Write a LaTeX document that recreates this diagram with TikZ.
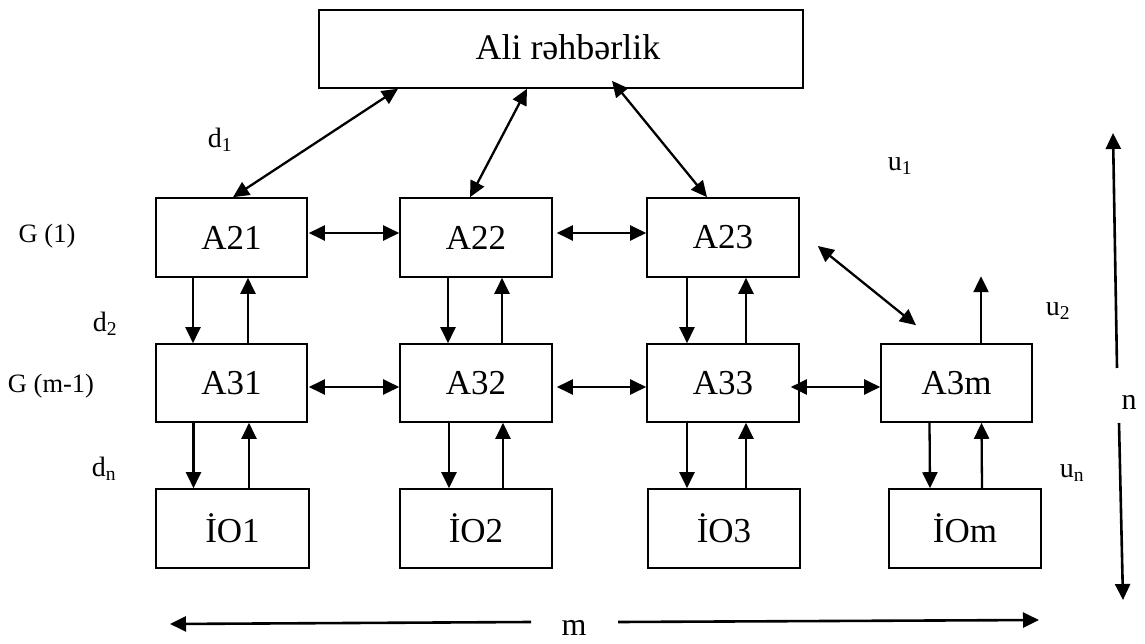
\documentclass[tikz,border=0pt]{standalone}
\usepackage{fontspec}
\setmainfont{Liberation Serif}
\usetikzlibrary{arrows.meta}
\tikzset{
  box/.style={draw, line width=1.6pt, inner sep=0pt, font=\fontsize{35}{40}\selectfont},
  arr/.style={line width=2.3pt, -{Triangle[length=16pt,width=15pt]}},
  dbl/.style={line width=2.3pt, {Triangle[length=16pt,width=15pt]}-{Triangle[length=16pt,width=15pt]}},
  glbl/.style={inner sep=0pt, font=\fontsize{26.5}{30}\selectfont},
  dlbl/.style={inner sep=0pt, font=\fontsize{28}{32}\selectfont},
  axlbl/.style={inner sep=0pt, font=\fontsize{30}{34}\selectfont},
  axarr/.style={line width=2.6pt, -{Triangle[length=16pt,width=15pt]}},
}
\begin{document}
\begin{tikzpicture}[x=1pt,y=-1pt]
\useasboundingbox (0,0) rectangle (1145,644);
% boxes
\node[box, minimum width=484pt, minimum height=78pt, font=\fontsize{36}{40}\selectfont] (top) at (561,49) {\hspace*{14pt}\raisebox{4pt}{Ali rəhbərlik}};
\node[box, minimum width=151pt, minimum height=79pt] (A21) at (231.5,237.5) {A21};
\node[box, minimum width=152pt, minimum height=79pt] (A22) at (476,237.5) {A22};
\node[box, minimum width=152pt, minimum height=79pt] (A23) at (723,237.5) {A23};
\node[box, minimum width=151pt, minimum height=78pt] (A31) at (231.5,383) {A31};
\node[box, minimum width=152pt, minimum height=78pt] (A32) at (476,383) {A32};
\node[box, minimum width=152pt, minimum height=78pt] (A33) at (723,383) {A33};
\node[box, minimum width=151pt, minimum height=78pt] (A3m) at (956.5,383) {A3m};
\node[box, minimum width=153pt, minimum height=79pt] (IO1) at (232.5,528.5) {İO1};
\node[box, minimum width=152pt, minimum height=79pt] (IO2) at (476,528.5) {İO2};
\node[box, minimum width=152pt, minimum height=79pt] (IO3) at (724,528.5) {İO3};
\node[box, minimum width=152pt, minimum height=79pt] (IOm) at (965,528.5) {İOm};

% labels
\node[glbl] (g1) at (47,236) {G (1)};
\node[glbl] (gm) at (51,386) {G (m-1)};
\node[dlbl] (d1) at (220,140) {d\textsubscript{1}};
\node[dlbl] (d2) at (105,324) {d\textsubscript{2}};
\node[dlbl] (dn) at (104,469) {d\textsubscript{n}};
\node[dlbl] (u1) at (900,166) {u\textsubscript{1}};
\node[dlbl] (u2) at (1058,311) {u\textsubscript{2}};
\node[dlbl] (un) at (1072,473) {u\textsubscript{n}};
\node[axlbl] (n) at (1129,402) {n};
\node[axlbl, font=\fontsize{32}{36}\selectfont] (m) at (574,628) {m};

% top connectors
\draw[dbl] ([xshift=-163pt]top.south) -- ([xshift=1.5pt]A21.north);
\draw[dbl] ([xshift=-34pt]top.south) -- ([xshift=-6pt]A22.north);
\draw[dbl] ([xshift=51pt,yshift=8pt]top.south) -- ([xshift=-16pt]A23.north);

% horizontal row 2
\draw[dbl] ([xshift=1pt,yshift=4.5pt]A21.east) -- ([yshift=4.5pt]A22.west);
\draw[dbl] ([xshift=4pt,yshift=4.5pt]A22.east) -- ([yshift=4.5pt]A23.west);
% A23 to A3m diagonal
\draw[dbl] ([xshift=18pt,yshift=-8.5pt]A23.east) -- ([xshift=-40.5pt,yshift=18pt]A3m.north);
% u2 arrow
\coordinate (u2end) at ([xshift=24.5pt,yshift=67pt]A3m.north);
\draw[arr] ([xshift=24.5pt]A3m.north) -- (u2end);

% horizontal row 3
\draw[dbl] ([xshift=1pt,yshift=-4pt]A31.east) -- ([yshift=-4pt]A32.west);
\draw[dbl] ([xshift=4pt,yshift=-4pt]A32.east) -- ([yshift=-4pt]A33.west);
\draw[dbl] ([xshift=-9pt,yshift=-4pt]A33.east) -- ([yshift=-4pt]A3m.west);

% vertical row2 - row3
\draw[arr] ([xshift=-38.5pt]A21.south) -- ([xshift=-38.5pt]A31.north);
\draw[arr] ([xshift=16.5pt]A31.north) -- ([xshift=16.5pt]A21.south);
\draw[arr] ([xshift=-28pt]A22.south) -- ([xshift=-28pt]A32.north);
\draw[arr] ([xshift=26pt]A32.north) -- ([xshift=26pt]A22.south);
\draw[arr] ([xshift=-36pt]A23.south) -- ([xshift=-36pt]A33.north);
\draw[arr] ([xshift=23pt]A33.north) -- ([xshift=23pt]A23.south);

% vertical row3 - IO
\draw[arr] ([xshift=-38pt]A31.south) -- ([xshift=-39pt]IO1.north);
\draw[arr] ([xshift=16.5pt]IO1.north) -- ([xshift=17.5pt]A31.south);
\draw[arr] ([xshift=-27pt]A32.south) -- ([xshift=-27pt]IO2.north);
\draw[arr] ([xshift=27pt]IO2.north) -- ([xshift=27pt]A32.south);
\draw[arr] ([xshift=-36pt]A33.south) -- ([xshift=-37pt]IO3.north);
\draw[arr] ([xshift=22pt]IO3.north) -- ([xshift=23pt]A33.south);
\draw[arr] ([xshift=-27pt]A3m.south) -- ([xshift=-35pt]IOm.north);
\draw[arr] ([xshift=17pt]IOm.north) -- ([xshift=25pt]A3m.south);

% n axis
\coordinate (ntop) at (1113,133);
\coordinate (nbot) at (1123,600);
\draw[axarr] (1117,368) -- (ntop);
\draw[axarr] (1119,423) -- (nbot);
% m axis
\coordinate (mleft) at (170,624);
\coordinate (mright) at (1039,620);
\draw[axarr] (531,622) -- (mleft);
\draw[axarr] (618,622) -- (mright);
\end{tikzpicture}
\end{document}
